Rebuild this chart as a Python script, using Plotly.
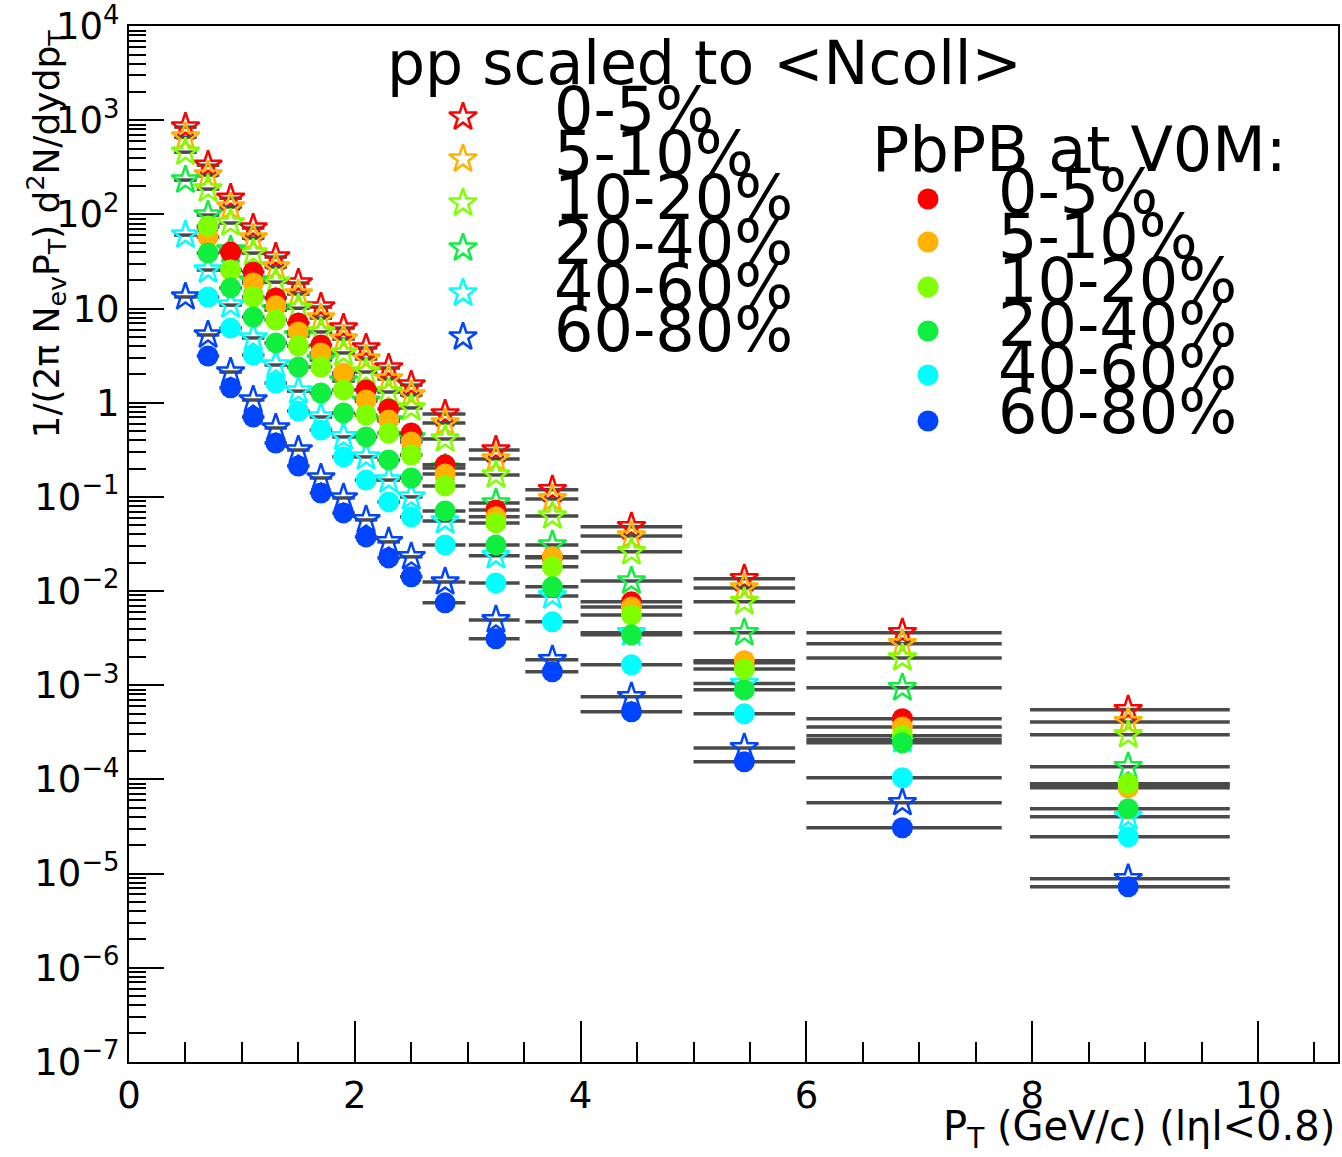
import plotly.graph_objects as go

# ---------------- data ----------------
pt = [0.5, 0.7, 0.9, 1.1, 1.3, 1.5, 1.7, 1.9, 2.1, 2.3, 2.5, 2.8, 3.25, 3.75, 4.45, 5.45, 6.85, 8.85]
pt_err_lo = [0.1, 0.1, 0.1, 0.1, 0.1, 0.1, 0.1, 0.1, 0.1, 0.1, 0.1, 0.2, 0.24, 0.24, 0.45, 0.45, 0.85, 0.87]
pt_err_hi = [0.1, 0.1, 0.1, 0.1, 0.1, 0.1, 0.1, 0.1, 0.1, 0.1, 0.1, 0.18, 0.21, 0.23, 0.45, 0.45, 0.88, 0.9]

centralities = ["0-5%", "5-10%", "10-20%", "20-40%", "40-60%", "60-80%"]
colors = ["#ff0000", "#ffb300", "#80ff00", "#10ee40", "#00ffff", "#0044ff"]

# pp scaled to <Ncoll> (open stars)
pp_0_5 = [847, 334, 149, 71.8, 35.3, 18.7, 10.4, 6.22, 3.82, 2.34, 1.54, 0.760, 0.315, 0.119, 0.0481, 0.0135, 0.00360, 0.000548]
pp_5_10 = [663, 262, 120, 56.1, 27.7, 14.3, 7.94, 4.75, 2.92, 1.79, 1.21, 0.611, 0.253, 0.0953, 0.0385, 0.0108, 0.00275, 0.000408]
pp_10_20 = [459, 186, 81.1, 38.9, 19.1, 10.1, 5.65, 3.38, 2.12, 1.30, 0.881, 0.413, 0.171, 0.0628, 0.0261, 0.00768, 0.00195, 0.000297]
pp_20_40 = [232, 98.6, 41.9, 19.6, 9.66, 5.12, 2.85, 1.70, 1.04, 0.641, 0.423, 0.203, 0.0863, 0.0309, 0.0128, 0.00360, 0.000938, 0.000136]
pp_40_60 = [60.4, 25.7, 10.9, 4.88, 2.52, 1.33, 0.706, 0.434, 0.266, 0.151, 0.100, 0.0556, 0.0237, 0.00889, 0.00360, 0.00104, 0.000263, 0.0000401]
pp_60_80 = [13.3, 5.25, 2.12, 1.07, 0.540, 0.315, 0.159, 0.0975, 0.0570, 0.0333, 0.0231, 0.0125, 0.00494, 0.00186, 0.000753, 0.000216, 0.0000565, 0.00000881]

# PbPb at V0M (filled circles)
pbpb_0_5 = [None, 73.5, 39.9, 24.5, 13.0, 7.03, 4.11, 2.03, 1.37, 0.859, 0.478, 0.219, 0.0728, 0.0226, 0.00768, 0.00173, 0.000440, 0.0000877]
pbpb_5_10 = [None, 57.5, 25.5, 18.7, 10.7, 5.65, 3.38, 2.07, 1.07, 0.656, 0.384, 0.175, 0.0614, 0.0231, 0.00679, 0.00182, 0.000361, 0.0000814]
pbpb_10_20 = [None, 75.3, 25.7, 13.3, 7.57, 4.01, 2.40, 1.37, 0.741, 0.478, 0.279, 0.131, 0.0530, 0.0181, 0.00558, 0.00149, 0.000290, 0.0000898]
pbpb_20_40 = [None, 38.9, 16.6, 8.15, 4.32, 2.40, 1.27, 0.780, 0.434, 0.247, 0.159, 0.0710, 0.0309, 0.0111, 0.00343, 0.000893, 0.000245, 0.0000488]
pbpb_40_60 = [None, 13.3, 6.22, 3.21, 1.62, 0.818, 0.514, 0.266, 0.151, 0.0885, 0.0614, 0.0309, 0.0122, 0.00471, 0.00165, 0.000497, 0.000104, 0.0000246]
pbpb_60_80 = [None, 3.14, 1.44, 0.706, 0.374, 0.213, 0.110, 0.0676, 0.0376, 0.0225, 0.0142, 0.00750, 0.00311, 0.00139, 0.000522, 0.000154, 0.0000306, 0.00000724]

pp_series = [pp_0_5, pp_5_10, pp_10_20, pp_20_40, pp_40_60, pp_60_80]
pbpb_series = [pbpb_0_5, pbpb_5_10, pbpb_10_20, pbpb_20_40, pbpb_40_60, pbpb_60_80]

y_tick_vals = [1e-7, 1e-6, 1e-5, 1e-4, 1e-3, 1e-2, 1e-1, 1, 10, 1e2, 1e3, 1e4]
y_tick_text = ["10<sup>−7</sup>", "10<sup>−6</sup>", "10<sup>−5</sup>", "10<sup>−4</sup>",
               "10<sup>−3</sup>", "10<sup>−2</sup>", "10<sup>−1</sup>", "1", "10",
               "10<sup>2</sup>", "10<sup>3</sup>", "10<sup>4</sup>"]

# ---------------- layout constants ----------------
W, H = 1342, 1157
L, R, T, B = 129, 1338, 26, 1062
FONT = "DejaVu Sans"
ERR_COLOR = "#4a4a4a"
EPS = 0.002  # tiny range padding so the 10^4 / 10^-7 ticks are kept

fig = go.Figure()

err = dict(type="data", symmetric=False, array=pt_err_hi, arrayminus=pt_err_lo,
           color=ERR_COLOR, thickness=3.5, width=0)

for vals, col, lab in zip(pp_series, colors, centralities):
    fig.add_trace(go.Scatter(
        x=pt, y=vals, mode="markers", name="pp " + lab, showlegend=False,
        error_x=err,
        marker=dict(symbol="star-open", size=21, color=col, line=dict(width=2.5, color=col)),
    ))

for vals, col, lab in zip(pbpb_series, colors, centralities):
    fig.add_trace(go.Scatter(
        x=pt, y=vals, mode="markers", name="PbPb " + lab, showlegend=False,
        error_x=err,
        marker=dict(symbol="circle", size=21, color=col, line=dict(width=0)),
    ))

# ----- legend drawn on an overlay pixel-coordinate axis -----
leg1_x = 463
leg1_y = [117, 159, 203, 248, 293, 337]
leg1_text_y = [109, 153, 197, 242, 286, 329]
leg2_x = 928
leg2_y = [199, 242, 287, 331, 375, 421]
leg2_text_y = [191, 236, 280, 324, 367, 411]

for col, lab, yy in zip(colors, centralities, leg1_y):
    fig.add_trace(go.Scatter(
        x=[leg1_x], y=[yy], xaxis="x2", yaxis="y2", mode="markers", showlegend=False,
        marker=dict(symbol="star-open", size=21, color=col, line=dict(width=2.5, color=col)),
        hoverinfo="skip"))
for col, lab, yy in zip(colors, centralities, leg2_y):
    fig.add_trace(go.Scatter(
        x=[leg2_x], y=[yy], xaxis="x2", yaxis="y2", mode="markers", showlegend=False,
        marker=dict(symbol="circle", size=21, color=col),
        hoverinfo="skip"))

LEG_FS = 62
annotations = []
annotations.append(dict(x=704, y=63, xref="x2", yref="y2", text="pp scaled to &lt;Ncoll&gt;",
                        showarrow=False, xanchor="center", yanchor="middle",
                        font=dict(family=FONT, size=60, color="black")))
annotations.append(dict(x=870, y=149, xref="x2", yref="y2", text="PbPB at V0M:",
                        showarrow=False, xanchor="left", yanchor="middle",
                        font=dict(family=FONT, size=LEG_FS, color="black")))
for lab, yy in zip(centralities, leg1_text_y):
    annotations.append(dict(x=552, y=yy, xref="x2", yref="y2", text=lab, showarrow=False,
                            xanchor="left", yanchor="middle",
                            font=dict(family=FONT, size=LEG_FS, color="black")))
for lab, yy in zip(centralities, leg2_text_y):
    annotations.append(dict(x=996, y=yy, xref="x2", yref="y2", text=lab, showarrow=False,
                            xanchor="left", yanchor="middle",
                            font=dict(family=FONT, size=LEG_FS, color="black")))

# axis titles
annotations.append(dict(x=(1337 - L) / (R - L), y=(B - 1129) / (B - T), xref="paper", yref="paper",
                        text="P<sub>T</sub> (GeV/c) (lηl&lt;0.8)", showarrow=False,
                        xanchor="right", yanchor="middle",
                        font=dict(family=FONT, size=40, color="black")))
annotations.append(dict(x=(46 - L) / (R - L), y=(B - 28) / (B - T), xref="paper", yref="paper",
                        text="1/(2π N<sub>ev</sub>P<sub>T</sub>) d<sup>2</sup>N/dydp<sub>T</sub>",
                        showarrow=False, textangle=-90, xanchor="center", yanchor="top",
                        font=dict(family=FONT, size=36, color="black")))

minor_y = [k * 10.0 ** e for e in range(-7, 4) for k in range(2, 10)]

fig.update_layout(
    width=W, height=H,
    margin=dict(l=L, r=W - R, t=T, b=H - B, pad=0, autoexpand=False),
    paper_bgcolor="white", plot_bgcolor="white",
    showlegend=False,
    annotations=annotations,
    xaxis=dict(
        range=[0, (R - L) / 112.9], showgrid=False, zeroline=False, automargin=False,
        showline=True, linecolor="black", linewidth=2, mirror=True,
        ticks="inside", ticklen=41, tickwidth=2, tickcolor="black",
        tickmode="array", tickvals=[0, 2, 4, 6, 8, 10],
        ticktext=["0", "2", "4", "6", "8", "10"],
        tickfont=dict(family=FONT, size=37, color="black"),
        ticklabeloverflow="allow",
        minor=dict(ticks="inside", ticklen=20, tickwidth=2, tickcolor="black",
                   dtick=0.5, showgrid=False),
    ),
    yaxis=dict(
        type="log", range=[-7 - EPS, 4 + EPS], showgrid=False, zeroline=False, automargin=False,
        showline=True, linecolor="black", linewidth=2, mirror=True,
        ticks="inside", ticklen=35, tickwidth=2, tickcolor="black",
        tickmode="array", tickvals=y_tick_vals, ticktext=y_tick_text,
        tickfont=dict(family=FONT, size=37, color="black"),
        ticklabeloverflow="allow",
        minor=dict(ticks="inside", ticklen=17, tickwidth=2, tickcolor="black",
                   tickmode="array", tickvals=minor_y, showgrid=False),
    ),
    xaxis2=dict(overlaying="x", range=[L, R], visible=False, fixedrange=True, automargin=False),
    yaxis2=dict(overlaying="y", range=[B, T], visible=False, fixedrange=True, automargin=False),
)

fig.write_html("out.html")
